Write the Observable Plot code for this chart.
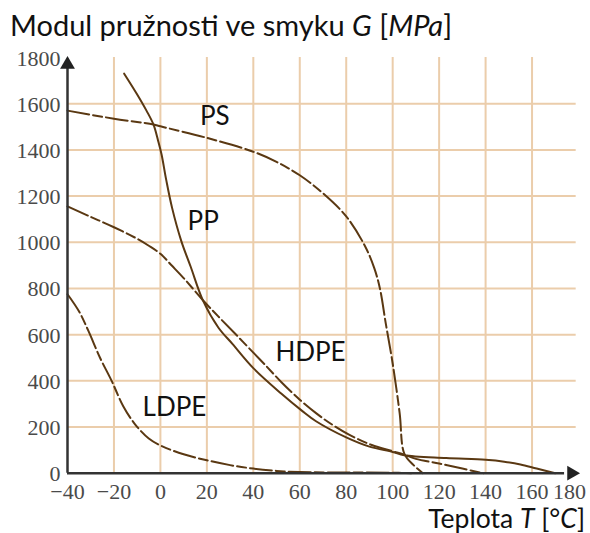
<!DOCTYPE html>
<html>
<head>
<meta charset="utf-8">
<script src="https://cdn.jsdelivr.net/npm/d3@7"></script>
<script src="https://cdn.jsdelivr.net/npm/@observablehq/plot@0.6"></script>
<style>
  html, body { margin: 0; padding: 0; background: #fff; }
  #wrap { width: 590px; height: 533px; }
  #title { height: 48px; box-sizing: border-box; padding: 10px 0 0 10px; font-family: Lato, sans-serif; font-size: 29px; line-height: 1; color: #111; white-space: nowrap; }
  #xlabel { height: 33px; box-sizing: border-box; padding: 5px 5px 0 0; text-align: right; font-family: Lato, sans-serif; font-size: 26.5px; line-height: 27px; color: #111; white-space: nowrap; }
  svg { display: block; }
</style>
</head>
<body>
<div id="wrap">
  <div id="title">Modul pružnosti ve smyku <i>G</i> [<i>MPa</i>]</div>
  <div id="chart"></div>
  <div id="xlabel">Teplota <i>T</i> [°<i>C</i>]</div>
</div>
<script>
// ---- data ----
const xTicks = [-40, -20, 0, 20, 40, 60, 80, 100, 120, 140, 160, 180];
const yTicks = [0, 200, 400, 600, 800, 1000, 1200, 1400, 1600, 1800];
const xGrid = [-20, 0, 20, 40, 60, 80, 100, 120, 140, 160];
const yGrid = [200, 400, 600, 800, 1000, 1200, 1400, 1600];

const psT = [-40, -20, -3, 0, 20, 40, 50, 60, 70, 80, 88, 92, 94.5, 97, 100, 103, 105, 109, 113];
const psG = [1570, 1535, 1510, 1502, 1452, 1392, 1348, 1290, 1212, 1112, 985, 890, 800, 650, 475, 260, 85, 35, 0];

const ppT = [-15.6, -10, -6, -3, -1, 0.5, 2.5, 5, 9, 13, 18.4, 25, 31, 40, 52, 61, 67, 80, 90, 100, 105, 123, 140, 148, 155, 162, 170];
const ppG = [1730, 1640, 1570, 1510, 1440, 1380, 1270, 1150, 1005, 895, 746, 630, 560, 455, 345, 270, 225, 155, 115, 92, 78, 66, 58, 50, 38, 20, 0];

const hdpeT = [-40, -30, -20, -10, -5, 0, 5, 10, 18.4, 25, 32, 40, 45, 52, 60, 67, 74, 81, 91, 100, 105, 110, 120, 130, 139];
const hdpeG = [1155, 1110, 1065, 1015, 985, 950, 898, 845, 748, 678, 606, 522, 470, 395, 318, 260, 210, 168, 122, 95, 80, 62, 42, 20, 0];

const ldpeT = [-40, -35, -31, -26, -21, -16, -11, -5, 0, 10, 20, 30, 40, 50, 60, 80, 100, 108];
const ldpeG = [775, 700, 616, 500, 400, 290, 213, 150, 120, 82, 56, 35, 20, 10, 5, 3, 2, 0];

const labels = ["PS", "PP", "HDPE", "LDPE"];
const labelT = [17, 11.7, 49.5, -7.7];
const labelG = [1545, 1090, 520, 285];

// ---- build tables ----
const toRows = (T, G) => T.map((t, i) => ({t, g: G[i]}));
const ps = toRows(psT, psG), pp = toRows(ppT, ppG), hdpe = toRows(hdpeT, hdpeG), ldpe = toRows(ldpeT, ldpeG);
const labelRows = labels.map((s, i) => ({s, t: labelT[i], g: labelG[i]}));

const lineColor = "#5a3812";
const gridColor = "#ebcdab";
const dash = "22,4,9,4";
const serif = "'Liberation Serif', 'DejaVu Serif', serif";
const fmt = d => d < 0 ? "\u2212" + Math.abs(d) : String(d);

const chart = Plot.plot({
  width: 590,
  height: 452,
  marginTop: 9,
  marginBottom: 27.3,
  marginLeft: 67,
  marginRight: 12,
  x: {domain: [-40, 180]},
  y: {domain: [0, 1800]},
  style: {background: "white", fontFamily: serif, fontSize: "22px", color: "#4a4a4a", overflow: "visible"},
  marks: [
    Plot.ruleY(yGrid, {x1: -40, x2: 179, stroke: gridColor, strokeWidth: 2}),
    Plot.ruleX(xGrid, {y1: 0, y2: 1800, stroke: gridColor, strokeWidth: 2}),
    Plot.axisY({ticks: yTicks, tickSize: 0, tickPadding: 7, dy: 1, label: null, fontSize: 22, fontFamily: serif, tickFormat: fmt}),
    Plot.axisX({ticks: xTicks.filter(d => d !== 180), tickSize: 0, tickPadding: 10, label: null, fontSize: 22, fontFamily: serif, tickFormat: fmt}),
    Plot.axisX({ticks: [180], tickSize: 0, tickPadding: 10, dx: -9, label: null, fontSize: 22, fontFamily: serif, tickFormat: fmt}),
    Plot.line(ldpe, {x: "t", y: "g", stroke: lineColor, strokeWidth: 2, strokeDasharray: dash, curve: "catmull-rom"}),
    Plot.line(hdpe, {x: "t", y: "g", stroke: lineColor, strokeWidth: 2, strokeDasharray: dash, curve: "catmull-rom"}),
    Plot.line(ps, {x: "t", y: "g", stroke: lineColor, strokeWidth: 2, strokeDasharray: dash, curve: "catmull-rom"}),
    Plot.line(pp, {x: "t", y: "g", stroke: lineColor, strokeWidth: 2, curve: "catmull-rom"}),
    Plot.ruleX([-40], {y1: 0, y2: 1760, stroke: "#333", strokeWidth: 2.5}),
    Plot.ruleY([0], {x1: -40, x2: 174, stroke: "#333", strokeWidth: 2.5}),
    Plot.dot([{t: -40, g: 1800}], {x: "t", y: "g", symbol: "triangle", r: 5.5, fill: "#222", stroke: "none", dy: 7}),
    Plot.dot([{t: 180, g: 0}], {x: "t", y: "g", symbol: "triangle", r: 5.5, fill: "#222", stroke: "none", rotate: 90, dx: -7}),
    Plot.text(labelRows, {x: "t", y: "g", text: "s", fontFamily: "Lato, sans-serif", fontSize: 26, fill: "#111", textAnchor: "start"})
  ]
});
document.getElementById("chart").appendChild(chart);
</script>
</body>
</html>
